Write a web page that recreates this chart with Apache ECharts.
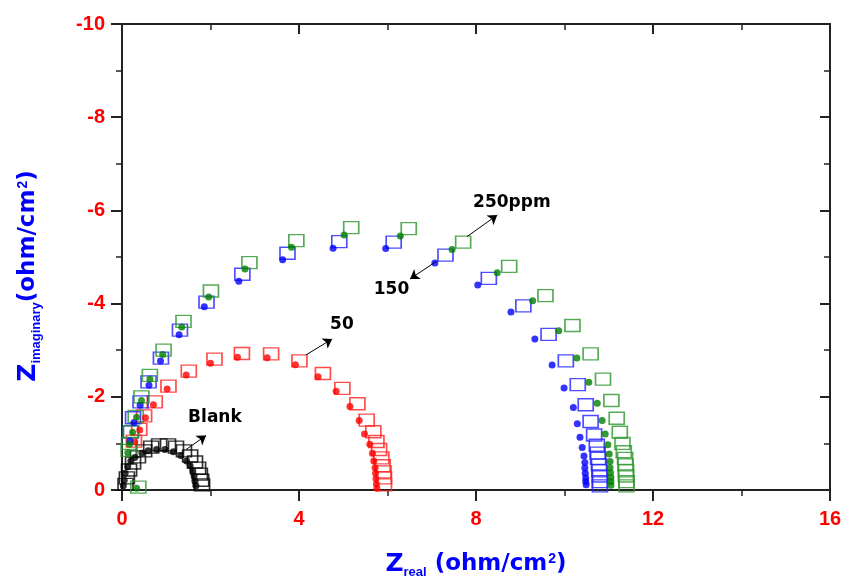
<!DOCTYPE html>
<html lang="en">
<head>
<meta charset="UTF-8">
<title>Nyquist plot</title>
<style>
  html, body { margin: 0; padding: 0; background: #fff; }
  #chart { width: 841px; height: 579px; }
</style>
</head>
<body>
<div id="chart"></div>
<script src="https://cdn.jsdelivr.net/npm/echarts@6.0.0/dist/echarts.min.js"></script>
<script>
// values: [Z real, Z imaginary] in ohm/cm2
var blankDots = [[0.03,-0.09],[0.05,-0.21],[0.07,-0.36],[0.13,-0.50],[0.20,-0.62],[0.29,-0.70],[0.45,-0.79],[0.59,-0.84],[0.78,-0.87],[0.97,-0.87],[1.16,-0.82],[1.33,-0.74],[1.46,-0.62],[1.54,-0.52],[1.60,-0.41],[1.63,-0.30],[1.65,-0.19],[1.67,-0.09]];
var blankSquares = [[0.08,-0.12],[0.11,-0.26],[0.16,-0.43],[0.25,-0.58],[0.36,-0.71],[0.50,-0.84],[0.66,-0.92],[0.84,-0.97],[1.04,-0.97],[1.22,-0.92],[1.40,-0.84],[1.54,-0.73],[1.65,-0.60],[1.72,-0.47],[1.76,-0.34],[1.79,-0.21],[1.81,-0.11]];

var red50Dots = [[0.29,-1.03],[0.40,-1.29],[0.53,-1.55],[0.71,-1.83],[1.02,-2.17],[1.45,-2.47],[2.00,-2.72],[2.61,-2.85],[3.28,-2.84],[3.92,-2.69],[4.43,-2.43],[4.84,-2.12],[5.15,-1.79],[5.36,-1.49],[5.48,-1.20],[5.60,-0.98],[5.66,-0.79],[5.69,-0.62],[5.72,-0.48],[5.73,-0.36],[5.74,-0.24],[5.75,-0.13],[5.76,-0.04]];
var red50Squares = [[0.27,-1.05],[0.39,-1.30],[0.50,-1.59],[0.74,-1.89],[1.05,-2.23],[1.51,-2.55],[2.09,-2.81],[2.71,-2.93],[3.37,-2.92],[4.01,-2.77],[4.54,-2.50],[4.98,-2.18],[5.32,-1.85],[5.53,-1.50],[5.68,-1.25],[5.75,-1.04],[5.81,-0.87],[5.86,-0.69],[5.89,-0.52],[5.91,-0.39],[5.92,-0.26],[5.92,-0.11]];

var blue150Dots = [[0.18,-1.05],[0.27,-1.45],[0.41,-1.82],[0.61,-2.25],[0.87,-2.77],[1.29,-3.33],[1.86,-3.93],[2.64,-4.48],[3.63,-4.94],[4.77,-5.19],[5.96,-5.18],[7.07,-4.87],[8.04,-4.40],[8.79,-3.82],[9.33,-3.24],[9.72,-2.68],[9.99,-2.19],[10.20,-1.77],[10.29,-1.42],[10.35,-1.13],[10.40,-0.91],[10.44,-0.73],[10.46,-0.59],[10.46,-0.47],[10.47,-0.36],[10.48,-0.26],[10.48,-0.18],[10.49,-0.11]];
var blue150Squares = [[0.20,-1.25],[0.25,-1.55],[0.42,-1.89],[0.60,-2.32],[0.88,-2.83],[1.31,-3.43],[1.91,-4.03],[2.72,-4.63],[3.74,-5.08],[4.91,-5.33],[6.14,-5.32],[7.31,-5.04],[8.29,-4.54],[9.07,-3.95],[9.64,-3.34],[10.03,-2.77],[10.30,-2.26],[10.48,-1.83],[10.59,-1.47],[10.67,-1.18],[10.73,-0.96],[10.75,-0.79],[10.76,-0.68],[10.78,-0.54],[10.79,-0.41],[10.80,-0.30],[10.80,-0.18],[10.80,-0.09]];

var green250Dots = [[0.33,-0.04],[0.13,-0.80],[0.17,-0.98],[0.24,-1.24],[0.33,-1.56],[0.44,-1.92],[0.63,-2.38],[0.92,-2.91],[1.35,-3.50],[1.96,-4.14],[2.78,-4.74],[3.83,-5.21],[5.02,-5.47],[6.29,-5.45],[7.46,-5.16],[8.48,-4.66],[9.28,-4.06],[9.87,-3.42],[10.28,-2.83],[10.55,-2.31],[10.74,-1.86],[10.85,-1.49],[10.92,-1.20],[10.98,-0.97],[11.01,-0.77],[11.03,-0.61],[11.03,-0.48],[11.04,-0.37],[11.05,-0.27],[11.05,-0.18],[11.05,-0.10]];
var green250Squares = [[0.37,-0.06],[0.15,-0.85],[0.16,-1.00],[0.20,-1.25],[0.31,-1.58],[0.44,-2.00],[0.63,-2.46],[0.94,-3.00],[1.39,-3.62],[2.01,-4.27],[2.88,-4.88],[3.94,-5.35],[5.18,-5.63],[6.48,-5.61],[7.71,-5.32],[8.75,-4.80],[9.57,-4.17],[10.18,-3.53],[10.59,-2.92],[10.87,-2.38],[11.06,-1.92],[11.18,-1.54],[11.25,-1.24],[11.31,-1.00],[11.34,-0.82],[11.37,-0.68],[11.38,-0.54],[11.39,-0.41],[11.39,-0.30],[11.40,-0.18],[11.40,-0.09]];

var xRange = [0, 16, 4];   // min, max, step
var yRange = [-10, 0, 2];

var labelNames = ['Blank', '50', '150', '250ppm'];
var labelPos = [[2.10,-1.55],[4.97,-3.54],[6.09,-4.31],[8.81,-6.16]];
var arrowFrom = [[1.45,-0.87],[4.16,-2.90],[7.11,-4.91],[7.80,-5.44]];
var arrowTo = [[1.90,-1.17],[4.75,-3.24],[6.51,-4.53],[8.48,-5.90]];

var chart = echarts.init(document.getElementById('chart'));

var frame = { show: true, onZero: false, lineStyle: { color: '#222', width: 2 } };
var tickFont = { color: '#ff0000', fontWeight: 'bold', fontSize: 20, fontFamily: 'Liberation Sans, Arial, sans-serif' };
// sub token is padded so the line is taller than the main text: sup sits high, sub sits low
var titleRich = {
  z: { fontSize: 25, fontWeight: 'bold', color: '#0000ff', fontFamily: 'DejaVu Sans', lineHeight: 30, verticalAlign: 'middle' },
  sub: { fontSize: 13, fontWeight: 'bold', color: '#0000ff', fontFamily: 'Liberation Sans', lineHeight: 13, padding: [30, 0, 0, 0], verticalAlign: 'bottom' },
  p: { fontSize: 23, fontWeight: 'bold', color: '#0000ff', fontFamily: 'DejaVu Sans', lineHeight: 30, verticalAlign: 'middle' },
  sup: { fontSize: 14, fontWeight: 'bold', color: '#0000ff', fontFamily: 'Liberation Sans', lineHeight: 14, padding: [3, 0, 0, 1], verticalAlign: 'top' }
};

function dots(data, color) {
  return { type: 'scatter', data: data, symbol: 'circle', symbolSize: 7, z: 3,
    itemStyle: { color: color }, emphasis: { disabled: true } };
}
function squares(data, color) {
  return { type: 'scatter', data: data, symbol: 'rect', symbolSize: [15, 12], z: 2,
    itemStyle: { color: 'rgba(0,0,0,0)', borderColor: color, borderWidth: 1.5 },
    emphasis: { disabled: true } };
}

var arrowLines = [];
for (var i = 0; i < arrowFrom.length; i++) {
  arrowLines.push([{ coord: arrowFrom[i] }, { coord: arrowTo[i] }]);
}
var labelData = [];
for (var j = 0; j < labelNames.length; j++) {
  labelData.push({ name: labelNames[j], value: labelPos[j] });
}

var option = {
  animation: false,
  backgroundColor: '#fff',
  grid: { left: 122, right: 11, top: 24, bottom: 89, containLabel: false, outerBoundsMode: 'none' },
  xAxis: [{
    type: 'value', min: xRange[0], max: xRange[1], interval: xRange[2], position: 'bottom',
    axisLine: frame,
    axisTick: { show: true, inside: false, length: 11, lineStyle: { color: '#222', width: 2 } },
    minorTick: { show: true, splitNumber: 2, length: 6, lineStyle: { color: '#222', width: 1.5 } },
    axisLabel: Object.assign({ margin: 19 }, tickFont),
    splitLine: { show: false },
    name: '{z|Z}{sub|real}{p| (ohm/cm}{sup|2}{p|)}',
    nameLocation: 'middle', nameGap: 59,
    nameTextStyle: { rich: titleRich }
  }, {
    type: 'value', min: xRange[0], max: xRange[1], interval: xRange[2], position: 'top',
    axisLine: frame,
    axisTick: { show: true, inside: true, length: 10, lineStyle: { color: '#222', width: 2 } },
    minorTick: { show: true, splitNumber: 2, length: 6, lineStyle: { color: '#222', width: 1.5 } },
    axisLabel: { show: false }, splitLine: { show: false }
  }],
  yAxis: [{
    type: 'value', min: yRange[0], max: yRange[1], interval: yRange[2], inverse: true, position: 'left',
    axisLine: frame,
    axisTick: { show: true, inside: false, length: 11, lineStyle: { color: '#222', width: 2 } },
    minorTick: { show: true, splitNumber: 2, length: 6, lineStyle: { color: '#222', width: 1.5 } },
    axisLabel: Object.assign({ margin: 17 }, tickFont),
    splitLine: { show: false },
    name: '{z|Z}{sub|imaginary}{p|(ohm/cm}{sup|2}{p|)}',
    nameLocation: 'middle', nameGap: 79,
    nameTextStyle: { rich: titleRich, padding: [0, 38, 0, 0] }
  }, {
    type: 'value', min: yRange[0], max: yRange[1], interval: yRange[2], inverse: true, position: 'right',
    axisLine: frame,
    axisTick: { show: true, inside: true, length: 10, lineStyle: { color: '#222', width: 2 } },
    minorTick: { show: true, splitNumber: 2, length: 6, lineStyle: { color: '#222', width: 1.5 } },
    axisLabel: { show: false }, splitLine: { show: false }
  }],
  series: [
    squares(blankSquares, '#000000'),
    squares(red50Squares, '#ff2020'),
    squares(blue150Squares, '#2020ff'),
    squares(green250Squares, '#2a962a'),
    dots(blankDots, '#000000'),
    dots(red50Dots, '#ff0000'),
    dots(blue150Dots, '#0000ff'),
    dots(green250Dots, '#008000'),
    {
      type: 'scatter', data: labelData, symbol: 'circle', symbolSize: 0, z: 5,
      itemStyle: { color: '#000', opacity: 1 },
      emphasis: { disabled: true },
      label: {
        show: true, position: 'inside', formatter: '{b}', opacity: 1,
        color: '#000', fontWeight: 'bold', fontSize: 17, fontFamily: 'DejaVu Sans'
      },
      markLine: {
        silent: true, animation: false,
        symbol: ['none', 'arrow'], symbolSize: 9,
        lineStyle: { color: '#000', width: 1, type: 'solid', opacity: 1 },
        label: { show: false },
        emphasis: { disabled: true },
        data: arrowLines
      }
    }
  ]
};

chart.setOption(option);
</script>
</body>
</html>
